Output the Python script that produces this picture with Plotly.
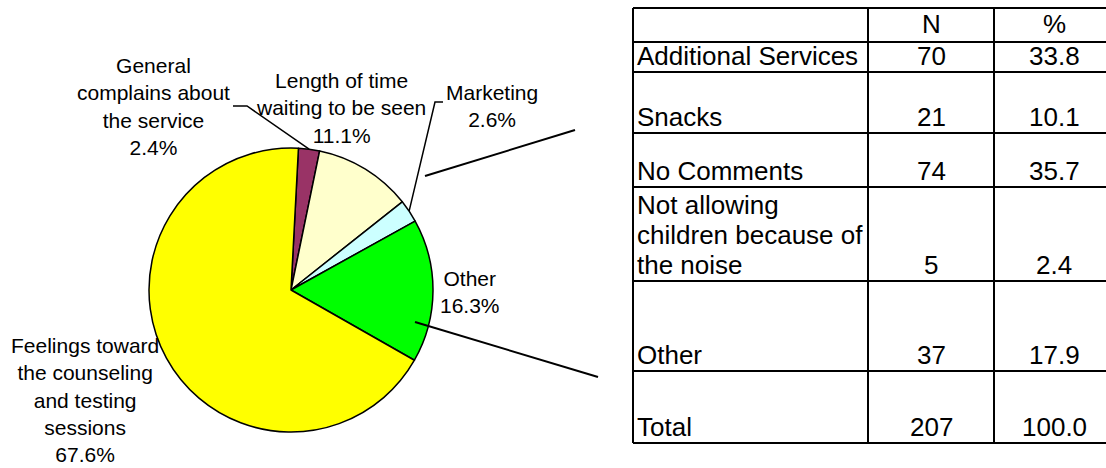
import math
import plotly.graph_objects as go

W, H = 1106, 468

# Pie: comment categories and their shares (%)
pie_labels = [
    "General<br>complains about<br>the service",
    "Length of time<br>waiting to be seen",
    "Marketing",
    "Other",
    "Feelings toward<br>the counseling<br>and testing<br>sessions",
]
pie_values = [2.4, 11.1, 2.6, 16.3, 67.6]
pie_colors = ["#993366", "#FFFFCC", "#CCFFFF", "#00FF00", "#FFFF00"]

# Table: breakdown of the "Other" category
table_header = ["", "N", "%"]
table_rows = [
    ["Additional Services"],
    ["Snacks"],
    ["No Comments"],
    ["Not allowing", "children because of", "the noise"],
    ["Other"],
    ["Total"],
]
table_n = [70, 21, 74, 5, 37, 207]
table_pct = [33.8, 10.1, 35.7, 2.4, 17.9, 100.0]

FONT = "Liberation Sans, Arial, sans-serif"


def px(x):
    return x / W


def py(y):
    return 1 - y / H


# pie geometry (pixels)
CX, CY, R = 291, 290, 142
ROT = 3

fig = go.Figure()
fig.add_trace(go.Pie(
    labels=[l.replace("<br>", " ") for l in pie_labels],
    values=pie_values,
    marker=dict(colors=pie_colors, line=dict(color="black", width=1.5)),
    sort=False,
    direction="clockwise",
    rotation=ROT,
    textinfo="none",
    hoverinfo="label+percent",
    showlegend=False,
    domain=dict(x=[px(CX - R), px(CX + R)], y=[py(CY + R), py(CY - R)]),
))

total = sum(pie_values)


def edge_point(i, frac=1.0):
    start = sum(pie_values[:i])
    mid = (start + pie_values[i] / 2) / total * 360 + ROT
    a = math.radians(mid)
    return CX + R * frac * math.sin(a), CY - R * frac * math.cos(a)


shapes = []
annotations = []

# pie labels: name + percentage
label_pos = [(153, 107), (341, 108), (492, 106), (470, 292), (85, 400)]
for lab, v, (x, y) in zip(pie_labels, pie_values, label_pos):
    annotations.append(dict(
        x=px(x), y=py(y), xref="paper", yref="paper",
        text=f"{lab}<br>{v:.1f}%", showarrow=False,
        xanchor="center", yanchor="middle", align="center",
        font=dict(family=FONT, size=21, color="black"),
    ))


def polyline(points, width=1.5):
    d = "M " + " L ".join(f"{px(x)} {py(y)}" for x, y in points)
    shapes.append(dict(type="path", path=d, xref="paper", yref="paper",
                       line=dict(color="black", width=width)))


# leader lines for the small slices
ex, ey = edge_point(0)
polyline([(233, 106), (247, 106), (ex, ey)])
ex, ey = edge_point(2)
polyline([(443, 102), (435, 102), (ex, ey)])

# connector lines from the pie toward the table
polyline([(425, 176), (575, 130)], width=2)
polyline([(415, 322), (598, 377)], width=2)

# table grid
row_lines = [8, 42, 72, 133, 187, 281, 371, 443]
col_lines = [633, 868, 994]
T_RIGHT = 1106
for y in row_lines:
    shapes.append(dict(type="line", xref="paper", yref="paper",
                       x0=px(633), x1=px(T_RIGHT), y0=py(y), y1=py(y),
                       line=dict(color="black", width=2)))
for x in col_lines:
    shapes.append(dict(type="line", xref="paper", yref="paper",
                       x0=px(x), x1=px(x), y0=py(row_lines[0]), y1=py(row_lines[-1]),
                       line=dict(color="black", width=2)))

TF = dict(family=FONT, size=26, color="black")
N_X, P_X, L_X = 931, 1054, 635
LINE_H = 30
BASE_OFF = 16.5


def cell_text(x, y, text, anchor):
    annotations.append(dict(
        x=px(x), y=py(y), xref="paper", yref="paper", text=text,
        showarrow=False, xanchor=anchor, yanchor="middle", font=TF,
    ))


# header row
cell_text(N_X, row_lines[1] - BASE_OFF - 2, table_header[1], "center")
cell_text(P_X, row_lines[1] - BASE_OFF - 2, table_header[2], "center")

for i, (lines, n, p) in enumerate(zip(table_rows, table_n, table_pct)):
    bottom = row_lines[i + 2]
    yb = bottom - BASE_OFF
    for k, line in enumerate(lines):
        cell_text(L_X, yb - (len(lines) - 1 - k) * LINE_H, line, "left")
    cell_text(N_X, yb, f"{n}", "center")
    cell_text(P_X, yb, f"{p:.1f}", "center")

fig.update_layout(
    width=W, height=H,
    margin=dict(l=0, r=0, t=0, b=0),
    paper_bgcolor="white", plot_bgcolor="white",
    shapes=shapes, annotations=annotations,
)

fig.write_html("out.html")
